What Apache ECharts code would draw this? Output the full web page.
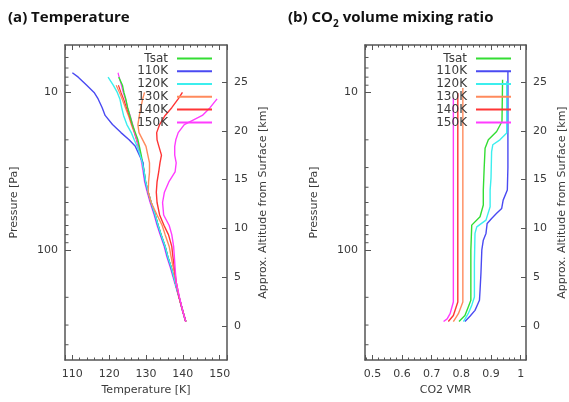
<!DOCTYPE html>
<html>
<head>
<meta charset="utf-8">
<script src="https://cdn.jsdelivr.net/npm/echarts@6/dist/echarts.min.js"></script>
<style>
  html, body { margin: 0; padding: 0; background: #fff; }
  #chart { width: 569px; height: 402px; }
</style>
</head>
<body>
<div id="chart"></div>
<script>
// ---- data ----
const runNames = ['Tsat', '110K', '120K', '130K', '140K', '150K'];
const runColors = ['#33dd33', '#4a4af2', '#3ceeee', '#ff8a5c', '#ff3535', '#ff3cff'];

// (a) temperature [K] at shared pressure levels [Pa] (null = no data)
const pLevels = [285, 250, 200, 160, 130, 110, 95, 80, 70, 60, 50, 43, 37, 32, 28, 25, 22, 20, 18, 16, 14, 12.5, 11, 10, 9, 8, 7.5];
const tTsat = [140.8, 140.1, 139.0, 137.9, 136.9, 135.9, 135.2, 134.1, 133.3, 132.5, 131.4, 130.6, 129.9, 129.5, 129.1, 128.7, 128.2, 127.8, 127.1, 126.3, 125.6, 125.0, 124.5, 124.0, 123.6, 122.6, null];
const t110 = [140.8, 140.1, 139.0, 137.9, 136.8, 135.8, 135.1, 134.0, 133.2, 132.4, 131.3, 130.5, 129.8, 129.4, 129.2, 128.2, 127.1, 125.4, 123.2, 120.9, 118.9, 118.1, 117.0, 115.9, 113.9, 111.6, 110.0];
const t120 = [140.8, 140.1, 139.0, 137.9, 136.9, 135.9, 135.2, 134.1, 133.3, 132.5, 131.4, 130.6, 129.9, 129.5, 129.0, 128.4, 127.6, 126.8, 126.0, 124.8, 123.9, 123.4, 122.9, 122.2, 121.1, 119.7, null];
const t130 = [140.8, 140.1, 139.0, 138.2, 137.4, 136.8, 136.3, 135.2, 134.4, 133.0, 131.4, 130.6, 130.7, 130.95, 130.95, 130.5, 130.0, 129.1, 128.1, 127.8, 128.2, 128.6, 129.1, 129.6, null, null, null];
const t140 = [140.8, 140.1, 139.0, 138.2, 137.7, 137.3, 137.0, 136.1, 134.9, 133.7, 133.0, 132.8, 133.0, 133.45, 133.8, 134.2, 133.5, 133.0, 132.9, 133.7, 135.2, 137.0, 138.75, 139.9, null, null, null];
const t150 = [140.8, 140.1, 139.1, 138.2, 137.9, 137.7, 137.5, 137.0, 136.3, 134.8, 134.5, 135.0, 136.2, 137.9, 138.2, 137.8, 137.8, 138.1, 138.75, 140.4, 145.3, 147.4, 149.3, null, null, null, null];
const tempRuns = [tTsat, t110, t120, t130, t140, t150];
// thin profiles of the warm runs that stay inside the cold bundle (no legend entry)
const tBundle130 = [140.8, 140.1, 139.0, 137.9, 136.9, 135.9, 135.2, 134.1, 133.3, 132.5, 131.4, 130.6, 129.9, 129.5, 129.0, 128.5, 127.9, 127.4, 126.8, 126.0, 125.2, 124.4, 123.5, 122.8, 121.9, null, null];
const tBundle140 = [140.8, 140.1, 139.0, 137.9, 136.9, 135.9, 135.2, 134.1, 133.3, 132.5, 131.4, 130.6, 129.9, 129.5, 129.0, 128.5, 128.0, 127.5, 126.9, 126.2, 125.4, 124.7, 123.9, 123.2, 122.5, null, null];
const tBundle150 = [140.7, 140.0, 138.9, 137.7, 136.6, 135.6, 134.9, 133.8, 133.0, 132.2, 131.1, 130.3, 129.6, 129.2, 128.8, 128.4, 127.9, 127.5, 126.9, 126.4, 125.7, 125.0, 124.4, 123.8, 123.3, 122.7, 122.4];
const bundleRuns = [[tBundle130, 3], [tBundle140, 4], [tBundle150, 5]];

// (b) CO2 volume mixing ratio profiles as [vmr, pressure Pa]
const vTsat = [[0.939, 8.3], [0.937, 15.3], [0.919, 17.7], [0.891, 20.0], [0.880, 22.6], [0.877, 30], [0.874, 41.7], [0.874, 51.9], [0.863, 61.6], [0.835, 69.6], [0.832, 100], [0.832, 209], [0.823, 231], [0.812, 261], [0.792, 285]];
const v110 = [[0.957, 7.35], [0.957, 30], [0.955, 41.7], [0.941, 48.3], [0.936, 54.5], [0.919, 58.6], [0.902, 63.1], [0.887, 67.9], [0.883, 78.6], [0.874, 86.7], [0.869, 100], [0.866, 141], [0.863, 181], [0.861, 209], [0.846, 242], [0.829, 264], [0.812, 285]];
const v120 = [[0.953, 8.5], [0.953, 18.1], [0.930, 20.0], [0.906, 21.5], [0.902, 23.8], [0.900, 35], [0.897, 41.7], [0.897, 53.2], [0.883, 64.7], [0.852, 71.4], [0.846, 78.6], [0.844, 120], [0.844, 199], [0.835, 225], [0.823, 254], [0.807, 285]];
const v130 = [[0.805, 9.38], [0.805, 214], [0.790, 254], [0.773, 285]];
const v140 = [[0.788, 10.1], [0.788, 214], [0.784, 220], [0.773, 261], [0.756, 285]];
const v150 = [[0.773, 10.86], [0.773, 214], [0.762, 254], [0.752, 274], [0.740, 285]];
const vmrRuns = [vTsat, v110, v120, v130, v140, v150];

// axis ranges / ticks
const tRange = [108, 152];
const vRange = [0.475, 1.018];
const pRange = [5, 500];
const altRange = [-3.5, 28.8];
const pMinorTicks = [6, 7, 8, 9, 20, 30, 40, 50, 60, 70, 80, 90, 200, 300, 400];

// ---- chart ----
const font = 'DejaVu Sans';
const axisColor = '#555';
const txtColor = '#3a3a3a';
const grids = [
  { left: 65, top: 45, width: 162, height: 315 },
  { left: 365, top: 45, width: 161, height: 315 }
];

function xAxes(gi, range, name) {
  const common = {
    type: 'value', gridIndex: gi, min: range[0], max: range[1],
    axisLine: { onZero: false, lineStyle: { color: axisColor, width: 1.5 } },
    axisTick: { inside: true, length: 5, lineStyle: { color: axisColor } },
    minorTick: { show: true, splitNumber: 5, length: 2.5, lineStyle: { color: axisColor } },
    splitLine: { show: false }
  };
  return [
    Object.assign({}, common, {
      position: 'bottom', name: name, nameLocation: 'middle', nameGap: 20,
      nameTextStyle: { fontFamily: font, fontSize: 11, color: txtColor },
      axisLabel: { fontFamily: font, fontSize: 11, color: txtColor, margin: 9, showMinLabel: false, showMaxLabel: false }
    }),
    Object.assign({}, common, { position: 'top', axisLabel: { show: false } })
  ];
}

function yAxes(gi) {
  return [
    {
      type: 'log', logBase: 10, gridIndex: gi, min: pRange[0], max: pRange[1], inverse: true,
      position: 'left', name: 'Pressure [Pa]', nameLocation: 'middle', nameGap: 45, nameRotate: 90,
      nameTextStyle: { fontFamily: font, fontSize: 11, color: txtColor },
      axisLine: { lineStyle: { color: axisColor, width: 1.5 } },
      axisTick: { inside: true, length: 6, lineStyle: { color: axisColor } },
      axisLabel: { fontFamily: font, fontSize: 11, color: txtColor, margin: 7, showMinLabel: false, showMaxLabel: false },
      splitLine: { show: false }
    },
    {
      type: 'value', gridIndex: gi, min: altRange[0], max: altRange[1],
      position: 'right', name: 'Approx. Altitude from Surface [km]', nameLocation: 'middle', nameGap: 31, nameRotate: 90,
      nameTextStyle: { fontFamily: font, fontSize: 11, color: txtColor },
      axisLine: { lineStyle: { color: axisColor, width: 1.5 } },
      axisTick: { inside: true, length: 5, lineStyle: { color: axisColor } },
      axisLabel: { fontFamily: font, fontSize: 11, color: txtColor, margin: 7, showMinLabel: false, showMaxLabel: false },
      splitLine: { show: false }
    }
  ];
}

function toPoints(t) {
  return pLevels.map(function (p, k) { return [t[k], p]; }).filter(function (d) { return d[0] !== null; });
}

const series = [];
bundleRuns.forEach(function (b) {
  series.push({
    name: runNames[b[1]] + ' ', type: 'line', xAxisIndex: 0, yAxisIndex: 0, data: toPoints(b[0]),
    showSymbol: false, symbol: 'none', color: runColors[b[1]], lineStyle: { width: 1.2 }, z: 2, silent: true
  });
});
tempRuns.forEach(function (t, i) {
  series.push({
    name: runNames[i], type: 'line', xAxisIndex: 0, yAxisIndex: 0, data: toPoints(t),
    showSymbol: false, symbol: 'none', color: runColors[i], lineStyle: { width: 1.4 }, z: 3
  });
});
vmrRuns.forEach(function (v, i) {
  series.push({
    name: runNames[i], type: 'line', xAxisIndex: 2, yAxisIndex: 2,
    data: v, showSymbol: false, symbol: 'none', color: runColors[i], lineStyle: { width: 1.4 }, z: 3
  });
});
// minor ticks of the log pressure axes
[[0, tRange], [2, vRange]].forEach(function (a) {
  series.push({
    type: 'custom', xAxisIndex: a[0], yAxisIndex: a[0], silent: true, clip: false, z: 5,
    data: pMinorTicks.map(function (p) { return [a[1][0], p]; }),
    renderItem: function (params, api) {
      const pt = api.coord([api.value(0), api.value(1)]);
      return { type: 'line', shape: { x1: pt[0], y1: pt[1], x2: pt[0] + 3.5, y2: pt[1] },
        style: { stroke: axisColor, lineWidth: 1 } };
    }
  });
});

function legend(right) {
  return {
    data: runNames, orient: 'vertical', align: 'right', right: right, top: 52,
    icon: 'rect', itemWidth: 35, itemHeight: 2, itemGap: 0, padding: 0,
    textStyle: { fontFamily: font, fontSize: 12, lineHeight: 12.8, color: txtColor, padding: [0, 4, 0, 0] }
  };
}

const option = {
  animation: false,
  backgroundColor: '#fff',
  title: [
    { text: '(a) Temperature', left: 8, top: 7, padding: 0,
      textStyle: { fontFamily: 'Open Sans', fontWeight: 'bold', fontSize: 15, lineHeight: 22, color: '#111' } },
    { text: '{b|(b) CO}{s|2}{b| volume mixing ratio}', left: 288, top: 7, padding: 0,
      textStyle: { rich: {
        b: { fontFamily: 'Open Sans', fontWeight: 'bold', fontSize: 15, lineHeight: 22, color: '#111' },
        s: { fontFamily: 'Open Sans', fontWeight: 'bold', fontSize: 10, lineHeight: 22, color: '#111', verticalAlign: 'bottom', padding: [8, 0, 0, 0] }
      } } }
  ],
  legend: [legend(357), legend(58)],
  grid: grids,
  xAxis: xAxes(0, tRange, 'Temperature [K]').concat(xAxes(1, vRange, 'CO2 VMR')),
  yAxis: yAxes(0).concat(yAxes(1)),
  series: series
};

const chart = echarts.init(document.getElementById('chart'), null, { renderer: 'canvas' });
chart.setOption(option);
</script>
</body>
</html>
